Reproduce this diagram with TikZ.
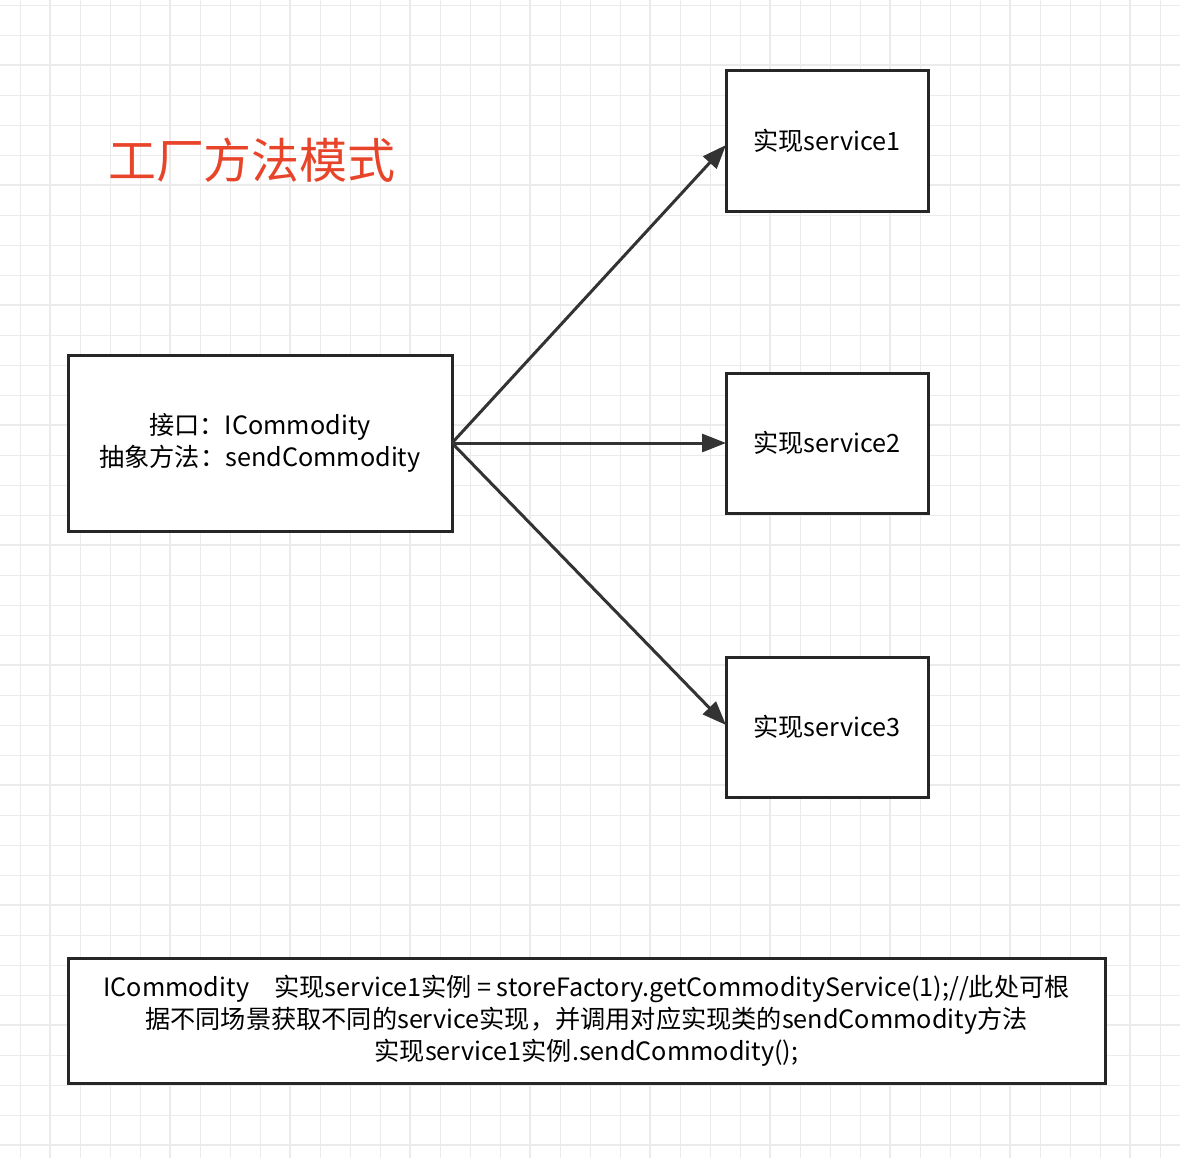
\documentclass[tikz,border=0pt]{standalone}
\usepackage{fontspec}
\setmainfont{Noto Sans CJK SC}
\usetikzlibrary{arrows.meta}
\definecolor{titlered}{HTML}{E8442A}
\definecolor{gridgray}{HTML}{EBEBEB}
\tikzset{
  box/.style={draw=black!85, line width=1.5pt, inner sep=0pt},
  link/.style={draw=black!80, line width=1.5pt, -{Triangle[length=12pt,width=9pt]}},
}
\begin{document}
\begin{tikzpicture}[x=0.5pt, y=-0.5pt, font=\fontsize{12.6}{16}\selectfont]
  \useasboundingbox (0,0) rectangle (1180,1158);
  % background grid
  \foreach \g in {20,50,...,1180} \draw[gridgray, line width=0.5pt] (\g,0) -- (\g,1158);
  \foreach \g in {5,35,...,1158} \draw[gridgray, line width=0.5pt] (0,\g) -- (1180,\g);
  \foreach \g in {50,170,...,1180} \draw[gridgray, line width=1pt] (\g,0) -- (\g,1158);
  \foreach \g in {65,185,...,1158} \draw[gridgray, line width=1pt] (0,\g) -- (1180,\g);
  % title
  \node (title) at (252,160) [text=titlered, font=\fontsize{24}{28}\selectfont] {工厂方法模式};
  % nodes
  \draw[box, fill=white] (68,355) rectangle (452,531) node (iface) [pos=.5, align=center] {接口：ICommodity\\抽象方法：sendCommodity};
  \draw[box, fill=white] (726,70) rectangle (928,211) node (svcA) [pos=.5] {实现service1};
  \draw[box, fill=white] (726,373) rectangle (928,513) node (svcB) [pos=.5] {实现service2};
  \draw[box, fill=white] (726,657) rectangle (928,797) node (svcC) [pos=.5] {实现service3};
  \draw[box, fill=white] (68,958) rectangle (1105,1083) node (usage) [pos=.5, align=center]
    {ICommodity\quad 实现service1实例 = storeFactory.getCommodityService(1);//此处可根\\
     据不同场景获取不同的service实现，并调用对应实现类的sendCommodity方法\\
     实现service1实例.sendCommodity();};
  \coordinate (src) at (452,443);
  \coordinate (dstA) at (726,145);
  \coordinate (dstB) at (726,443);
  \coordinate (dstC) at (726,725);
  \draw[link] (src) -- (dstA);
  \draw[link] (src) -- (dstB);
  \draw[link] (src) -- (dstC);
\end{tikzpicture}
\end{document}
